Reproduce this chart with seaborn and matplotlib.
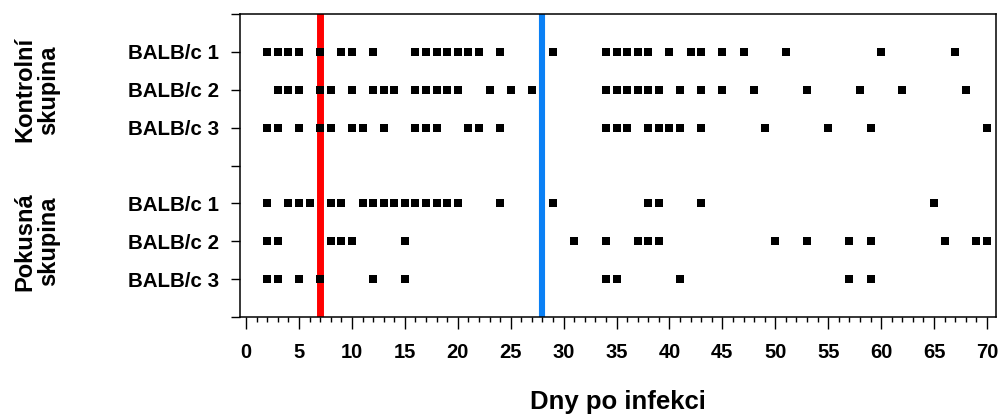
import pandas as pd
import numpy as np
import matplotlib
matplotlib.use("Agg")
import matplotlib.pyplot as plt
import seaborn as sns
from matplotlib.ticker import MultipleLocator

# days with positive finding, one list per mouse
kontrol_1 = [2, 3, 4, 5, 7, 9, 10, 12, 16, 17, 18, 19, 20, 21, 22, 24, 29,
             34, 35, 36, 37, 38, 40, 42, 43, 45, 47, 51, 60, 67]
kontrol_2 = [3, 4, 5, 7, 8, 10, 12, 13, 14, 16, 17, 18, 19, 20, 23, 25, 27,
             34, 35, 36, 37, 38, 39, 41, 43, 45, 48, 53, 58, 62, 68]
kontrol_3 = [2, 3, 5, 7, 8, 10, 11, 13, 16, 17, 18, 21, 22, 24,
             34, 35, 36, 38, 39, 40, 41, 43, 49, 55, 59, 70]
pokus_1 = [2, 4, 5, 6, 8, 9, 11, 12, 13, 14, 15, 16, 17, 18, 19, 20, 24, 29,
           38, 39, 43, 65]
pokus_2 = [2, 3, 8, 9, 10, 15, 31, 34, 37, 38, 39, 50, 53, 57, 59, 66, 69, 70]
pokus_3 = [2, 3, 5, 7, 12, 15, 34, 35, 41, 57, 59]

row_labels = ["BALB/c 1", "BALB/c 2", "BALB/c 3", "BALB/c 1", "BALB/c 2", "BALB/c 3"]
row_pos = [1, 2, 3, 5, 6, 7]
groups = ["Kontrolní\nskupina", "Pokusná\nskupina"]
group_pos = [2, 6]
infection_day = 7
second_day = 28

series = [kontrol_1, kontrol_2, kontrol_3, pokus_1, pokus_2, pokus_3]
df = pd.concat([pd.DataFrame({"den": s, "radek": p}) for s, p in zip(series, row_pos)],
               ignore_index=True)

sns.set_style("ticks")
plt.rcParams['font.family'] = ['Liberation Sans', 'DejaVu Sans']
plt.rcParams['font.weight'] = 'bold'
plt.rcParams['text.color'] = 'black'
plt.rcParams['axes.labelcolor'] = 'black'
plt.rcParams['xtick.color'] = 'black'
plt.rcParams['ytick.color'] = 'black'

fig = plt.figure(figsize=(10.01, 4.16), dpi=100)
ax = fig.add_axes([0.2398, 0.238, 0.7552, 0.7283])

ax.axvline(infection_day, color="#ff0000", lw=5.0, zorder=1)
ax.axvline(second_day, color="#0a80f5", lw=4.4, zorder=1)

sns.scatterplot(data=df, x="den", y="radek", marker="s", s=32, color="black",
                edgecolor="black", linewidth=0, ax=ax, zorder=3)

ax.set_xlim(-0.57, 70.85)
ax.set_ylim(8, 0)
ax.set_yticks(range(0, 9))
ax.set_yticklabels(["" if i not in row_pos else row_labels[row_pos.index(i)] for i in range(9)],
                   fontsize=14.8, fontweight="bold")
ax.xaxis.set_major_locator(MultipleLocator(5))
ax.xaxis.set_minor_locator(MultipleLocator(1))
ax.tick_params(axis="x", which="major", length=8.6, width=1.0, pad=10,
               labelsize=14.5)
ax.tick_params(axis="x", which="minor", length=3.6, width=1.0)
ax.tick_params(axis="y", length=6.5, width=1.0, pad=8.5)
for lab in ax.get_xticklabels():
    lab.set_fontweight("bold")

for sp in ax.spines.values():
    sp.set_visible(True)
    sp.set_linewidth(1.1)
    sp.set_color("black")

ax.set_ylabel("")
ax.set_xlabel("Dny po infekci", fontsize=18.5, fontweight="bold", labelpad=20)

for g, p in zip(groups, group_pos):
    ax.text(-0.269, p, g, transform=ax.get_yaxis_transform(), rotation=90,
            ha="center", va="center", multialignment="center",
            fontsize=17, fontweight="bold", linespacing=1.0)

fig.savefig("out.png", dpi=100)
